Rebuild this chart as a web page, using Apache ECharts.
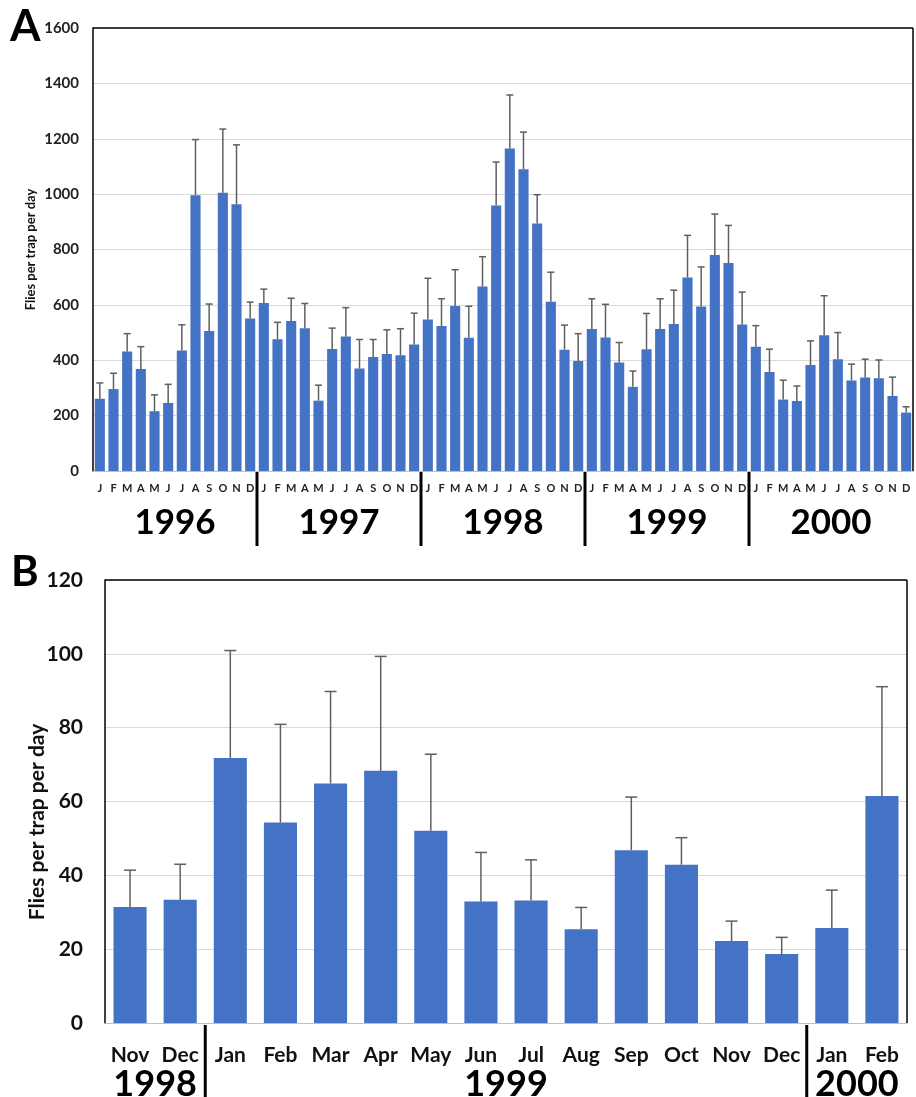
<!DOCTYPE html>
<html><head><meta charset="utf-8">
<script src="https://cdn.jsdelivr.net/npm/echarts@6/dist/echarts.min.js"></script>
<style>html,body{margin:0;padding:0;background:#fff}#c{width:916px;height:1097px}</style>
</head><body><div id="c"></div>
<script>
// ---------- Panel A data ----------
const monthLettersA = ['J','F','M','A','M','J','J','A','S','O','N','D'];
const yearsA = ['1996','1997','1998','1999','2000'];
const meanA = [
  261,296,432,368,216,246,435,996,506,1005,963,551,
  607,476,542,516,254,441,486,370,412,423,418,457,
  547,524,596,481,666,959,1165,1090,894,611,438,397,
  513,482,392,304,440,513,531,699,594,780,751,529,
  449,358,258,253,383,490,404,327,338,335,271,211
];
const errA = [
  57,57,64,81,59,67,93,201,97,230,215,59,
  50,61,82,89,56,75,104,105,63,87,96,113,
  149,98,131,114,108,157,193,134,104,107,89,99,
  109,120,72,57,129,109,122,152,143,148,136,117,
  76,82,70,54,87,143,96,59,66,66,68,21
];
const yMaxA = 1600, yStepA = 200;

// ---------- Panel B data ----------
const monthsB = ['Nov','Dec','Jan','Feb','Mar','Apr','May','Jun','Jul','Aug','Sep','Oct','Nov','Dec','Jan','Feb'];
const yearsB = ['1998','1999','2000'];
const yearSpanB = [[0,1],[2,13],[14,15]];
const meanB = [31.4,33.4,71.8,54.3,64.9,68.3,52.1,32.9,33.2,25.4,46.8,42.9,22.2,18.7,25.7,61.5];
const errB  = [10.0,9.6,29.1,26.6,24.9,31.0,20.7,13.3,11.0,5.9,14.4,7.3,5.4,4.5,10.3,29.6];
const yMaxB = 120, yStepB = 20;

const yTitle = 'Flies per trap per day';

// ---------- build ----------
const FONT = 'Lato, "Open Sans", sans-serif';
const catsA = yearsA.flatMap(() => monthLettersA);
const GA = {left: 93, top: 28, width: 820, height: 443};
const GB = {left: 105, top: 580, width: 802, height: 443};

function errSeries(xi, yi, means, errs, cap) {
  return {
    type: 'custom', xAxisIndex: xi, yAxisIndex: yi, z: 5,
    data: means.map((m, i) => [i, m, m + errs[i]]),
    renderItem: function (params, api) {
      const b = api.coord([api.value(0), api.value(1)]);
      const t = api.coord([api.value(0), api.value(2)]);
      const st = {stroke: '#5f5f5f', lineWidth: 1.5};
      return {type: 'group', children: [
        {type: 'line', shape: {x1: b[0], y1: b[1], x2: t[0], y2: t[1]}, style: st},
        {type: 'line', shape: {x1: t[0] - cap, y1: t[1], x2: t[0] + cap, y2: t[1]}, style: st}
      ]};
    }
  };
}

const plain = v => String(v);
const chart = echarts.init(document.getElementById('c'), null, {renderer: 'canvas'});
const option = {
  animation: false,
  backgroundColor: '#fff',
  textStyle: {fontFamily: FONT},
  grid: [
    Object.assign({containLabel: false}, GA),
    Object.assign({containLabel: false}, GB)
  ],
  xAxis: [
    {type: 'category', gridIndex: 0, data: catsA,
     axisLine: {lineStyle: {color: '#bfbfbf', width: 1}}, axisTick: {show: false},
     axisLabel: {interval: 0, fontFamily: FONT, fontWeight: 'bold', fontSize: 11, color: '#222', margin: 12}},
    {type: 'category', gridIndex: 1, data: monthsB,
     axisLine: {lineStyle: {color: '#bfbfbf', width: 1}}, axisTick: {show: false},
     axisLabel: {interval: 0, fontFamily: FONT, fontWeight: 'bold', fontSize: 21, color: '#111', margin: 22}}
  ],
  yAxis: [
    {type: 'value', gridIndex: 0, min: 0, max: yMaxA, interval: yStepA,
     axisLine: {show: true, lineStyle: {color: '#000', width: 1.5}}, axisTick: {show: false},
     splitLine: {lineStyle: {color: '#d9d9d9', width: 1}},
     axisLabel: {formatter: plain, fontFamily: FONT, fontWeight: 'bold', fontSize: 15, color: '#222', margin: 14}},
    {type: 'value', gridIndex: 1, min: 0, max: yMaxB, interval: yStepB,
     axisLine: {show: true, lineStyle: {color: '#000', width: 1.5}}, axisTick: {show: false},
     splitLine: {lineStyle: {color: '#d9d9d9', width: 1}},
     axisLabel: {formatter: plain, fontFamily: FONT, fontWeight: 'bold', fontSize: 21, color: '#111', margin: 22}}
  ],
  series: [
    {type: 'bar', xAxisIndex: 0, yAxisIndex: 0, data: meanA, barWidth: '74%',
     itemStyle: {color: '#4472c4'}},
    errSeries(0, 0, meanA, errA, 3.5),
    {type: 'bar', xAxisIndex: 1, yAxisIndex: 1, data: meanB, barWidth: '66%',
     itemStyle: {color: '#4472c4'}},
    errSeries(1, 1, meanB, errB, 6)
  ]
};
chart.setOption(option);

function px(ax, i) { return chart.convertToPixel({xAxisIndex: ax}, i); }
const g = [];
const blk = {stroke: '#000', lineWidth: 1.5};
// frames (top and right edges)
[GA, GB].forEach(G => {
  g.push({type: 'line', shape: {x1: G.left, y1: G.top, x2: G.left + G.width, y2: G.top}, style: blk, z: 10});
  g.push({type: 'line', shape: {x1: G.left + G.width, y1: G.top, x2: G.left + G.width, y2: G.top + G.height}, style: blk, z: 10});
});
// Panel A years & separators
yearsA.forEach((y, k) => {
  const s = k * 12, e = s + 11;
  g.push({type: 'text', x: (px(0, s) + px(0, e)) / 2, y: 523,
    style: {text: y, fontFamily: FONT, fontWeight: 'bold', fontSize: 35, fill: '#000', textAlign: 'center', textVerticalAlign: 'middle'}});
  if (k > 0) {
    const xs = (px(0, s - 1) + px(0, s)) / 2;
    g.push({type: 'line', shape: {x1: xs, y1: GA.top + GA.height, x2: xs, y2: 546}, style: {stroke: '#000', lineWidth: 3}});
  }
});
// Panel B years & separators
yearsB.forEach((y, k) => {
  const [s, e] = yearSpanB[k];
  g.push({type: 'text', x: (px(1, s) + px(1, e)) / 2, y: 1084,
    style: {text: y, fontFamily: FONT, fontWeight: 'bold', fontSize: 36, fill: '#000', textAlign: 'center', textVerticalAlign: 'middle'}});
  if (k > 0) {
    const xs = (px(1, s - 1) + px(1, s)) / 2;
    g.push({type: 'line', shape: {x1: xs, y1: GB.top + GB.height + 2, x2: xs, y2: 1097}, style: {stroke: '#000', lineWidth: 3}});
  }
});
// axis titles
g.push({type: 'text', x: 31, y: GA.top + GA.height / 2, rotation: Math.PI / 2,
  style: {text: yTitle, fontFamily: FONT, fontWeight: 'bold', fontSize: 13, fill: '#111', textAlign: 'center', textVerticalAlign: 'middle'}});
g.push({type: 'text', x: 37, y: 822, rotation: Math.PI / 2,
  style: {text: yTitle, fontFamily: FONT, fontWeight: 'bold', fontSize: 21, fill: '#111', textAlign: 'center', textVerticalAlign: 'middle'}});
// panel letters
g.push({type: 'text', x: 10, y: 27, style: {text: 'A', fontFamily: FONT, fontWeight: 'bold', fontSize: 44, fill: '#000', textAlign: 'left', textVerticalAlign: 'middle'}});
g.push({type: 'text', x: 11, y: 572, style: {text: 'B', fontFamily: FONT, fontWeight: 'bold', fontSize: 42, fill: '#000', textAlign: 'left', textVerticalAlign: 'middle'}});
chart.setOption({graphic: g});
</script>
</body></html>
